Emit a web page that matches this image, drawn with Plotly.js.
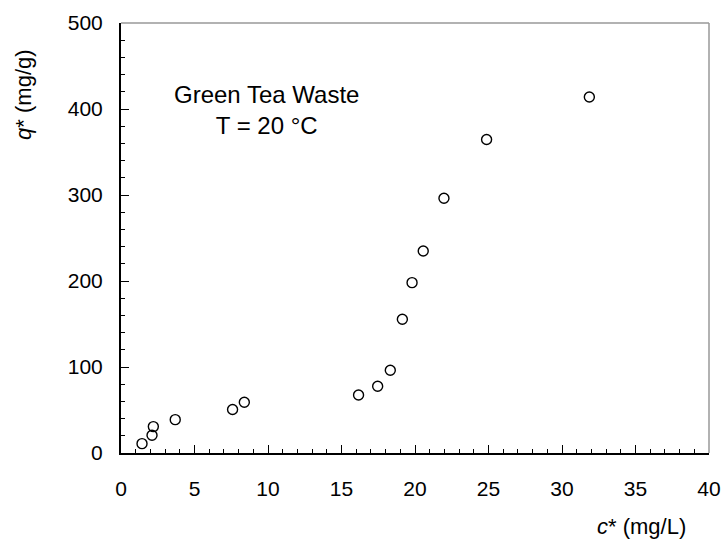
<!DOCTYPE html>
<html>
<head>
<meta charset="utf-8">
<script src="https://cdn.plot.ly/plotly-3.0.1.min.js"></script>
<style>html,body{margin:0;padding:0;background:#fff;}#chart{width:722px;height:539px;}</style>
</head>
<body>
<div id="chart"></div>
<script>
// Equilibrium concentration c* (mg/L)
const cStar = [1.43, 2.11, 2.20, 3.69, 7.59, 8.39, 16.16, 17.46, 18.32, 19.14, 19.80, 20.56, 21.97, 24.87, 31.86];
// Equilibrium uptake q* (mg/g)
const qStar = [10.9, 20.6, 30.7, 38.8, 50.5, 59.0, 67.4, 77.6, 96.2, 155.5, 198.1, 234.9, 296.2, 364.6, 414.0];
const xTicks = [0, 5, 10, 15, 20, 25, 30, 35, 40];
const yTicks = [0, 100, 200, 300, 400, 500];
const annotLines = ["Green Tea Waste", "T = 20 °C"];

const font = {family: "Liberation Sans, Arial, sans-serif", color: "#000"};

const trace = {
  x: cStar, y: qStar, type: "scatter", mode: "markers",
  marker: {symbol: "circle-open", size: 10, color: "#000", line: {width: 1.4, color: "#000"}},
  hoverinfo: "skip"
};

const layout = {
  width: 722, height: 539,
  margin: {l: 121, r: 13, t: 23, b: 86},
  paper_bgcolor: "#fff", plot_bgcolor: "#fff",
  showlegend: false,
  font: Object.assign({size: 21}, font),
  xaxis: {
    range: [0, 40], tickvals: xTicks, ticktext: xTicks.map(String),
    ticks: "inside", ticklen: 8, tickwidth: 1, tickcolor: "#000",
    showline: true, linecolor: "#000", linewidth: 2,
    showgrid: false, zeroline: false, ticklabelstandoff: 16,
    tickfont: Object.assign({size: 21}, font),
    minor: {dtick: 1, ticks: "inside", ticklen: 4, tickcolor: "#000", tickwidth: 1, showgrid: false}
  },
  yaxis: {
    range: [0, 500], tickvals: yTicks, ticktext: yTicks.map(String),
    ticks: "inside", ticklen: 8, tickwidth: 1, tickcolor: "#000",
    showline: true, linecolor: "#000", linewidth: 2,
    showgrid: false, zeroline: false, ticklabelstandoff: 12,
    tickfont: Object.assign({size: 21}, font),
    minor: {dtick: 20, ticks: "inside", ticklen: 4, tickcolor: "#000", tickwidth: 1, showgrid: false}
  },
  shapes: [
    {type: "line", xref: "paper", yref: "paper", x0: 0, x1: 1, y0: 1, y1: 1, line: {color: "#999", width: 1.5}},
    {type: "line", xref: "paper", yref: "paper", x0: 1, x1: 1, y0: 0, y1: 1, line: {color: "#999", width: 1.5}}
  ],
  annotations: [
    {xref: "paper", yref: "paper", x: 0.247, y: 0.798, xanchor: "center", yanchor: "middle",
     text: annotLines.join("<br>"), showarrow: false, align: "center",
     font: Object.assign({size: 24}, font)},
    {xref: "paper", yref: "paper", x: 0.965, y: -0.17, xanchor: "right", yanchor: "middle",
     text: "<i>c</i>* (mg/L)", showarrow: false, font: Object.assign({size: 22}, font)},
    {xref: "paper", yref: "paper", x: -0.165, y: 0.835, xanchor: "center", yanchor: "middle",
     text: "<i>q</i>* (mg/g)", textangle: -90, showarrow: false, font: Object.assign({size: 22}, font)}
  ]
};

Plotly.newPlot("chart", [trace], layout, {staticPlot: true, displayModeBar: false});
</script>
</body>
</html>
